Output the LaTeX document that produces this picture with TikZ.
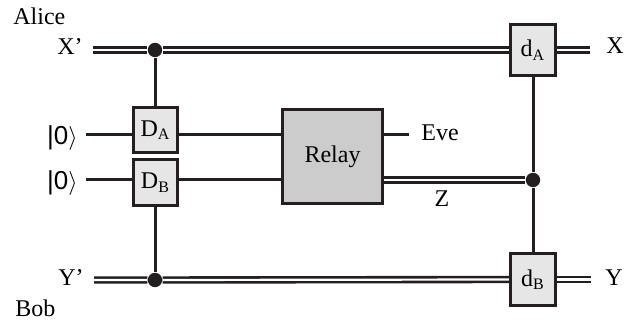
\documentclass[tikz,border=0pt]{standalone}
\usepackage{fontspec}
\setmainfont{Liberation Serif}
\setsansfont{Liberation Sans}
\usetikzlibrary{positioning,calc,backgrounds}
\definecolor{ink}{HTML}{231F20}
\definecolor{boxgray}{HTML}{E6E6E7}
\definecolor{relaygray}{HTML}{CCCCCC}

\begin{document}
\begin{tikzpicture}[x=0.5pt,y=-0.5pt,
    wire/.style={ink,line width=1.5pt},
    cwire/.style={ink,line width=1.3pt,double=white,double distance=1.1pt},
    gate/.style={draw=ink,line width=1.5pt,fill=boxgray,inner sep=0pt,
                 font=\fontsize{12}{14}\selectfont},
    lbl/.style={inner sep=0pt,font=\fontsize{12}{14}\selectfont},
    ket/.style={inner sep=0pt,font=\fontsize{13}{15}\selectfont\sffamily},
    dot/.style={circle,fill=ink,inner sep=0pt,minimum size=7.2pt}]
  \useasboundingbox (0,0) rectangle (639,326);

  % gates
  \node[gate,minimum width=22pt,minimum height=22.5pt] (DA) at (155.5,130) {D\textsubscript{A}};
  \node[gate,minimum width=22pt,minimum height=23pt] (DB) at (155.5,182.5) {D\textsubscript{B}};
  \node[gate,fill=relaygray,minimum width=50pt,minimum height=47pt] (relay) at (332.5,156.5) {Relay};
  \node[gate,minimum width=22.5pt,minimum height=25.5pt] (dA) at (533,50) {d\textsubscript{A}};
  \node[gate,minimum width=22.5pt,minimum height=26pt] (dB) at (533,279.5) {d\textsubscript{B}};

  % labels
  \node[lbl,anchor=base west] (alice) at (13,25) {Alice};
  \node[lbl,anchor=base west] (bob) at (15,317) {Bob};
  \node[lbl,anchor=base east] (xp) at (83,55) {X'};
  \node[lbl,anchor=base east] (yp) at (84,286) {Y'};
  \node[lbl,anchor=base west] (xout) at (606,54) {X};
  \node[lbl,anchor=base west] (yout) at (605,286) {Y};
  \node[lbl,anchor=base west] (eve) at (421,141) {Eve};
  \node[lbl,anchor=base] (zlbl) at (442,207) {Z};
  \node[ket,anchor=base east] (ketA) at (78,145) {|0$\rangle$};
  \node[ket,anchor=base east] (ketB) at (78,190) {|0$\rangle$};

  \coordinate (inA) at (86,135);
  \coordinate (inB) at (86,180);

  % junctions
  \node[dot] (xdot) at (155,50) {};
  \node[dot] (ydot) at (155,280) {};
  \node[dot] (zdot) at (533,180) {};

  \begin{scope}[on background layer]
    \draw[cwire] ([xshift=5pt]xp.east |- xdot) -- (xdot) -- (dA.west);
    \draw[cwire] (dA.east) -- ([xshift=-8pt]xout.west |- dA);
    \draw[cwire] ([xshift=5pt]yp.east |- ydot) -- (ydot) -- (dB.west);
    \draw[cwire] (dB.east) -- ([xshift=-7pt]yout.west |- dB);
    \draw[cwire] (relay.east |- inB) -- (zdot);

    \draw[wire] (xdot) -- (xdot |- DA.north);
    \draw[wire] (ydot |- DB.south) -- (ydot);
    \draw[wire] (dA.south) -- (zdot) -- (dB.north);

    \draw[wire] (inA) -- (inA -| DA.west);
    \draw[wire] (inB) -- (inB -| DB.west);
    \draw[wire] (DA.east |- inA) -- (relay.west |- inA);
    \draw[wire] (DB.east |- inB) -- (relay.west |- inB);
    \draw[wire] (relay.east |- inA) -- ([xshift=-6pt]eve.west |- inA);
  \end{scope}
\end{tikzpicture}
\end{document}
